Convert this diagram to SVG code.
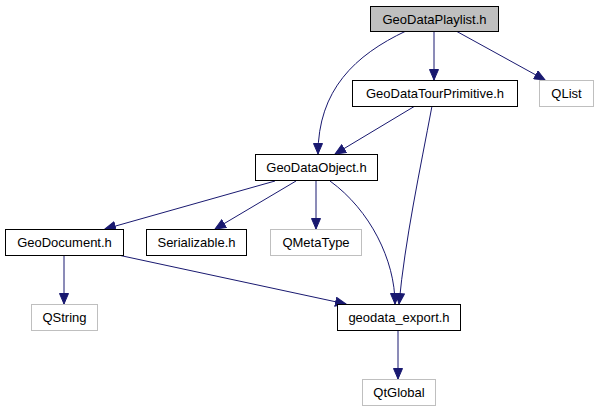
<svg xmlns="http://www.w3.org/2000/svg" width="599" height="411" viewBox="0 0 599 411">
<style>
.n rect{fill:#fff;stroke:#000;stroke-width:1}
.g rect{fill:#fff;stroke:#bfbfbf;stroke-width:1}
text{font-family:"Liberation Sans",Arial,sans-serif;font-size:13px;text-anchor:middle;fill:#000}
.e path{fill:none;stroke:#191970;stroke-width:1;marker-end:url(#a)}
</style>
<defs>
<marker id="a" markerUnits="userSpaceOnUse" markerWidth="12" markerHeight="10" viewBox="0 0 12 10" refX="11" refY="5" orient="auto">
<path d="M0.5,0.5 L11,5 L0.5,9.5 z" fill="#191970" stroke="#191970"/>
</marker>
</defs>
<rect width="599" height="411" fill="#fff"/>
<g class="e">
<path d="M434,31 L434,80"/>
<path d="M456,31 L545,80"/>
<path d="M406,31 C355,55 318,90 318,154"/>
<path d="M415,106 L335,154"/>
<path d="M432,106 C420,170 405,240 399,304"/>
<path d="M275,181 L105,229"/>
<path d="M296,181 L215,229"/>
<path d="M316,181 L316,229"/>
<path d="M330,181 C370,210 395,260 395,304"/>
<path d="M64,255 L64,304"/>
<path d="M118,255 L346,304"/>
<path d="M398,330 L398,379"/>
</g>
<g id="GeoDataPlaylist" class="n"><rect x="370.5" y="6.5" width="128" height="25" style="fill:#bfbfbf"/><text x="434.5" y="23.5">GeoDataPlaylist.h</text></g>
<g id="GeoDataTourPrimitive" class="n"><rect x="352.5" y="80.5" width="165" height="26"/><text x="435" y="98">GeoDataTourPrimitive.h</text></g>
<g id="QList" class="g"><rect x="539.5" y="80.5" width="54" height="26"/><text x="566.5" y="98">QList</text></g>
<g id="GeoDataObject" class="n"><rect x="255.5" y="154.5" width="122" height="26"/><text x="316.5" y="172">GeoDataObject.h</text></g>
<g id="GeoDocument" class="n"><rect x="5.5" y="229.5" width="118" height="26"/><text x="64.5" y="247">GeoDocument.h</text></g>
<g id="Serializable" class="n"><rect x="146.5" y="229.5" width="100" height="26"/><text x="196.5" y="247">Serializable.h</text></g>
<g id="QMetaType" class="g"><rect x="270.5" y="229.5" width="91" height="26"/><text x="316" y="247">QMetaType</text></g>
<g id="QString" class="g"><rect x="31.5" y="304.5" width="66" height="26"/><text x="64.5" y="322">QString</text></g>
<g id="geodata_export" class="n"><rect x="337.5" y="304.5" width="123" height="26"/><text x="399" y="322">geodata_export.h</text></g>
<g id="QtGlobal" class="g"><rect x="362.5" y="379.5" width="73" height="26"/><text x="399" y="397">QtGlobal</text></g>
</svg>
